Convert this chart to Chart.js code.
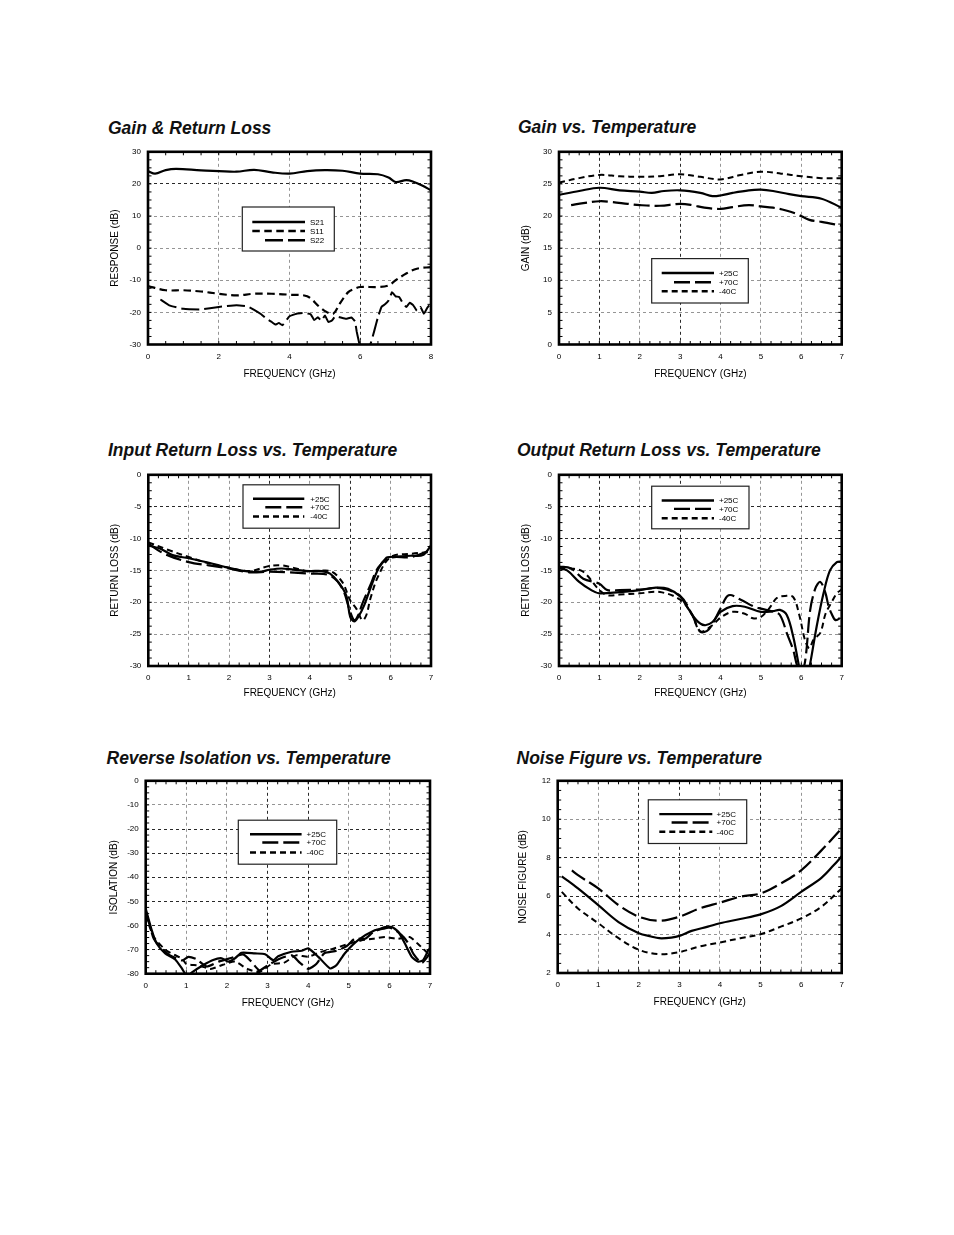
<!DOCTYPE html>
<html><head><meta charset="utf-8">
<script src="https://cdn.jsdelivr.net/npm/chart.js@4.4.1/dist/chart.umd.min.js"></script>
<style>
html,body{margin:0;padding:0;background:#fff;}
body{width:954px;height:1235px;position:relative;overflow:hidden;font-family:"Liberation Sans",Arial,sans-serif;}
.t{position:absolute;font-weight:bold;font-style:italic;font-size:17.5px;line-height:20px;color:#111;white-space:nowrap;}
canvas{position:absolute;}
</style></head><body>
<div class="t" style="left:108px;top:117.8px">Gain &amp; Return Loss</div>
<div class="t" style="left:518px;top:117.3px">Gain vs. Temperature</div>
<div class="t" style="left:108px;top:439.8px">Input Return Loss vs. Temperature</div>
<div class="t" style="left:517px;top:439.8px">Output Return Loss vs. Temperature</div>
<div class="t" style="left:106.5px;top:747.8px">Reverse Isolation vs. Temperature</div>
<div class="t" style="left:516.5px;top:747.8px">Noise Figure vs. Temperature</div>
<canvas id="c1" width="345" height="250" style="left:100px;top:140px"></canvas>
<canvas id="c2" width="345" height="250" style="left:510px;top:140px"></canvas>
<canvas id="c3" width="345" height="250" style="left:100px;top:463px"></canvas>
<canvas id="c4" width="345" height="250" style="left:510px;top:463px"></canvas>
<canvas id="c5" width="345" height="250" style="left:100px;top:769px"></canvas>
<canvas id="c6" width="345" height="250" style="left:510px;top:769px"></canvas>
<script>
// ---------------- DATA ----------------
// Chart 1: Gain & Return Loss
const s21X = [0,0.2,0.5,0.8,1.5,2,2.5,3,3.5,4,4.5,5,5.5,6,6.5,6.8,7,7.3,7.5,7.75,8];
const s21Y = [24.0,23.2,24.3,24.7,24.2,24.0,23.8,24.4,23.6,23.2,24.0,24.3,24.1,23.2,23.0,22.0,20.6,21.2,20.7,19.5,18.0];
const s11X = [0,0.5,1,1.5,2,2.5,3,3.5,4,4.5,4.85,5.05,5.24,5.42,5.66,5.85,6,6.5,6.8,7,7.3,7.6,8];
const s11Y = [-11.8,-13.1,-13.1,-13.5,-14.2,-14.7,-14.2,-14.2,-14.5,-15.0,-18.3,-19.9,-20.4,-17.3,-13.7,-12.6,-12.1,-12.1,-11.6,-10.0,-7.9,-6.4,-5.9];
const s22X = [0.35,0.6,1.0,1.5,2.0,2.5,2.8,3.0,3.2,3.35,3.5,3.6,3.7,3.8,4.0,4.2,4.4,4.6,4.7,4.8,4.9,5.0,5.1,5.2,5.3,5.45,5.6,5.75,5.85,5.9,5.95,6.0,6.1,6.2,6.3,6.4,6.5,6.6,6.7,6.8,6.9,7.0,7.1,7.2,7.3,7.4,7.5,7.6,7.7,7.8,7.9,8.0];
const s22Y = [-16.0,-17.8,-18.9,-19.1,-18.3,-17.8,-18.1,-19.2,-20.6,-22.0,-23.0,-23.8,-23.3,-24.0,-21.2,-20.4,-20.2,-20.6,-22.4,-21.5,-22.6,-21.0,-23.0,-22.5,-21.2,-21.6,-22.0,-21.6,-22.8,-26.0,-28.5,-31,-32,-32,-29.5,-25.6,-21.5,-18.3,-17.5,-16.3,-13.7,-15.0,-15.2,-17.0,-18.3,-17.0,-17.8,-19.5,-18.3,-20.4,-18.5,-17.1];
// Chart 2: Gain vs. Temperature
const g25X = [0,0.5,1,1.5,2,2.3,2.6,3,3.5,3.8,4,4.3,4.7,5,5.3,5.7,6,6.5,7];
const g25Y = [23.3,23.9,24.4,24.0,23.8,23.6,23.9,24.0,23.6,23.1,23.2,23.6,24.0,24.1,23.9,23.4,23.1,22.7,21.3];
const g70X = [0.3,0.6,1,1.3,1.7,2,2.5,3,3.3,3.6,4,4.3,4.7,5,5.3,5.6,5.9,6.2,6.5,7];
const g70Y = [21.7,22.0,22.3,22.2,21.9,21.7,21.6,21.9,21.7,21.3,21.1,21.4,21.7,21.5,21.3,20.9,20.3,19.4,19.1,18.5];
const gm40X = [0,0.5,1,1.5,2,2.5,3,3.5,4,4.5,5,5.5,6,6.5,7];
const gm40Y = [25.2,25.9,26.4,26.2,26.1,26.2,26.5,26.1,25.7,26.4,26.9,26.6,26.2,25.9,25.9];
// Chart 3: Input Return Loss vs. Temperature
const ir25X = [0,0.3,0.6,1,1.5,2,2.5,2.8,3,3.3,3.6,4,4.3,4.5,4.7,4.9,5.0,5.1,5.2,5.35,5.5,5.7,5.9,6,6.5,6.8,7];
const ir25Y = [-11.1,-11.6,-12.6,-13.1,-13.8,-14.6,-15.2,-15.2,-14.9,-14.7,-14.9,-15.1,-15.1,-15.5,-16.8,-18.9,-22.3,-23.0,-22.3,-20.4,-17.8,-14.7,-13.0,-12.9,-12.7,-12.6,-11.1];
const ir70X = [0,0.4,1,1.5,2,2.5,3,3.5,4,4.5,4.8,5.0,5.1,5.2,5.3,5.5,5.7,6,6.5,7];
const ir70Y = [-10.8,-12.4,-13.7,-14.2,-14.7,-15.3,-15.2,-15.3,-15.5,-15.8,-17.8,-21.5,-22.8,-22.0,-20.2,-17.3,-14.5,-13.0,-12.9,-11.8];
const irm40X = [0,0.5,1,1.5,2,2.5,3,3.3,3.6,4,4.5,4.8,5.0,5.15,5.3,5.4,5.5,5.7,6,6.5,7];
const irm40Y = [-10.6,-11.8,-12.9,-13.9,-14.6,-15.1,-14.3,-14.2,-14.6,-15.2,-15.1,-16.8,-19.7,-21.0,-22.8,-22.0,-19.4,-15.8,-12.9,-12.4,-12.1];
// Chart 4: Output Return Loss vs. Temperature
const or25X = [0,0.2,0.5,0.8,1,1.5,2,2.4,2.7,3,3.2,3.4,3.6,3.8,4,4.3,4.6,5,5.3,5.47,5.64,5.8,5.93,6.0,6.15,6.22,6.38,6.55,6.71,6.88,7];
const or25Y = [-14.7,-15.0,-16.8,-18.1,-18.6,-18.4,-18.1,-17.7,-17.9,-19.1,-21.0,-22.8,-23.6,-23.1,-21.5,-20.6,-20.7,-21.5,-21.4,-21.2,-22.0,-25.4,-29.6,-31.5,-31.5,-29.6,-23.8,-18.6,-15.0,-13.7,-13.6];
const or70X = [0,0.3,0.6,1,1.2,1.5,2,2.5,3,3.3,3.5,3.7,4,4.2,4.5,4.8,5.0,5.3,5.47,5.65,5.8,5.9,6.0,6.1,6.22,6.35,6.47,6.6,6.67,6.75,6.85,7];
const or70Y = [-14.4,-14.7,-16.3,-17.1,-18.1,-18.1,-18.0,-17.8,-19.0,-22.0,-24.6,-24.3,-21.0,-18.9,-19.6,-20.6,-21.0,-21.5,-22.0,-25.0,-27.5,-30.0,-31.0,-29.0,-21.2,-17.8,-16.8,-18.6,-20.5,-21.8,-22.8,-22.3];
const orm40X = [0,0.3,0.6,1,1.2,1.5,2,2.5,3,3.3,3.5,3.8,4,4.3,4.6,4.8,5.0,5.2,5.4,5.6,5.8,5.95,6.09,6.2,6.3,6.47,6.6,6.75,6.88,7];
const orm40Y = [-14.6,-14.7,-15.2,-18.1,-18.9,-18.8,-18.6,-18.4,-19.6,-22.0,-24.6,-23.6,-22.4,-21.5,-21.8,-22.5,-22.3,-21.0,-19.3,-19.0,-19.2,-22.0,-25.9,-27.2,-25.9,-24.8,-21.8,-20.0,-18.6,-18.0];
// Chart 5: Reverse Isolation vs. Temperature
const is25X = [0,0.15,0.27,0.48,0.72,0.89,0.97,1.05,1.13,1.42,1.66,1.87,2.03,2.2,2.36,2.69,2.94,3.14,3.26,3.59,3.84,4.0,4.25,4.54,4.7,4.9,5.23,5.64,5.89,6.05,6.22,6.38,6.55,6.71,6.83,6.96,7];
const is25Y = [-53,-62,-67.5,-71.6,-74,-77.8,-80,-81,-79.6,-76.4,-74.3,-73.6,-75,-73.6,-71.3,-71.6,-71.9,-74.4,-72.8,-70.9,-70.5,-69.5,-73,-77.8,-76.4,-71.6,-66.1,-62,-61.2,-60.6,-62.6,-67.4,-73,-75,-74.4,-70.2,-69.5];
const is70X = [0,0.1,0.2,0.4,0.6,0.9,1.05,1.25,1.5,1.8,2.1,2.4,2.6,2.8,3.0,3.3,3.6,3.8,4.0,4.2,4.4,4.7,4.95,5.15,5.4,5.6,5.9,6.1,6.3,6.45,6.6,6.8,7];
const is70Y = [-54.5,-60,-65.5,-69.7,-72.4,-74.5,-73,-74,-77,-75,-73.5,-72,-75,-78.6,-76.6,-73.8,-72.4,-75.5,-78,-76,-71.5,-70.5,-68.5,-65.5,-65.5,-62.8,-60.7,-61.4,-64,-67,-72,-75.5,-71.5];
const ism40X = [0,0.2,0.5,0.9,1.0,1.3,1.6,1.9,2.2,2.5,2.8,3.1,3.4,3.7,4.0,4.3,4.6,5.0,5.3,5.6,5.9,6.2,6.5,6.7,7];
const ism40Y = [-56,-64.8,-70.3,-73.8,-76,-76.6,-78,-76.3,-75,-78,-79.3,-76,-75.5,-72.4,-73,-71,-69.7,-67.6,-66.2,-65.5,-64.8,-65.5,-64.8,-67.6,-72.4];
// Chart 6: Noise Figure vs. Temperature
const nf25X = [0.1,0.5,1,1.5,2,2.3,2.5,2.8,3,3.3,3.7,4,4.5,5,5.5,6,6.5,6.8,7];
const nf25Y = [7.03,6.4,5.53,4.65,4.07,3.9,3.81,3.84,3.93,4.19,4.41,4.59,4.81,5.05,5.48,6.22,6.95,7.6,8.07];
const nf70X = [0.35,0.5,1,1.5,2,2.5,3,3.5,4,4.5,5,5.5,6,6.5,7];
const nf70Y = [7.34,7.09,6.4,5.53,4.93,4.72,4.93,5.36,5.66,5.97,6.14,6.66,7.34,8.38,9.53];
const nfm40X = [0.1,0.5,1,1.5,2,2.5,3,3.5,4,4.5,5,5.5,6,6.5,7];
const nfm40Y = [6.22,5.36,4.59,3.81,3.21,2.98,3.09,3.38,3.59,3.81,4.02,4.41,4.84,5.45,6.4];

const tempLabels = ['+25C','+70C','-40C'];
const sParamLabels = ['S21','S11','S22'];

// ---------------- RENDERING ----------------
const FONT = '"Liberation Sans", Arial, sans-serif';
const pts = (xs, ys) => xs.map((x, i) => ({x, y: ys[i]}));
const SOLID = [];
const SHORT = [6, 4];
const LONG = [16, 5];

const framePlugin = {
  id: 'frameTicks',
  afterDatasetsDraw(chart, args, opts) {
    const {ctx, chartArea: a} = chart;
    const xs = chart.scales.x, ys = chart.scales.y;
    ctx.save();
    ctx.strokeStyle = '#000';
    ctx.lineWidth = 1;
    ctx.setLineDash([]);
    const L = 3.5;
    const xm = opts.xMinor, ym = opts.yMinor;
    for (let v = xs.min; v <= xs.max + 1e-9; v += xm) {
      const p = xs.getPixelForValue(v);
      ctx.beginPath(); ctx.moveTo(p, a.bottom); ctx.lineTo(p, a.bottom - L); ctx.stroke();
      ctx.beginPath(); ctx.moveTo(p, a.top); ctx.lineTo(p, a.top + L); ctx.stroke();
    }
    for (let v = ys.min; v <= ys.max + 1e-9; v += ym) {
      const p = ys.getPixelForValue(v);
      ctx.beginPath(); ctx.moveTo(a.left, p); ctx.lineTo(a.left + L, p); ctx.stroke();
      ctx.beginPath(); ctx.moveTo(a.right, p); ctx.lineTo(a.right - L, p); ctx.stroke();
    }
    // legend box
    const lg = opts.legend;
    const bx = a.left + lg.x, by = a.top + lg.y;
    ctx.fillStyle = '#fff';
    ctx.fillRect(bx, by, lg.w, lg.h);
    ctx.strokeStyle = '#222';
    ctx.lineWidth = 1.2;
    ctx.strokeRect(bx, by, lg.w, lg.h);
    chart.data.datasets.forEach((ds, i) => {
      const yy = by + lg.rows[i];
      ctx.beginPath();
      ctx.setLineDash(ds.borderDash || []);
      ctx.lineWidth = 2.4;
      ctx.strokeStyle = '#000';
      ctx.moveTo(bx + lg.lx[i], yy);
      ctx.lineTo(bx + lg.lx2, yy);
      ctx.stroke();
      ctx.setLineDash([]);
      ctx.fillStyle = '#000';
      ctx.font = '8px ' + FONT;
      ctx.textBaseline = 'middle';
      ctx.textAlign = 'left';
      ctx.fillText(ds.label, bx + lg.tx, yy + 0.5);
    });
    // frame
    ctx.setLineDash([]);
    ctx.lineWidth = 2.6;
    ctx.strokeStyle = '#000';
    ctx.strokeRect(a.left, a.top, a.right - a.left, a.bottom - a.top);
    ctx.restore();
  }
};

function gridColor(dark) {
  return c => (c.tick && dark.includes(c.tick.value)) ? '#111' : '#8a8a8a';
}

function makeChart(id, cfg) {
  const datasets = cfg.series.map(s => ({
    label: s.label,
    data: pts(s.x, s.y),
    borderColor: '#000',
    borderWidth: s.w || 2,
    borderDash: s.dash,
    pointRadius: 0,
    tension: s.tension === undefined ? 0.35 : s.tension,
    fill: false
  }));
  return new Chart(document.getElementById(id), {
    type: 'line',
    data: {datasets},
    plugins: [framePlugin],
    options: {
      responsive: false,
      animation: false,
      events: [],
      layout: {padding: {top: cfg.padTop, right: cfg.padRight, left: 0, bottom: 0}},
      plugins: {
        legend: {display: false},
        tooltip: {enabled: false},
        frameTicks: {xMinor: cfg.xMinor, yMinor: cfg.yMinor, legend: cfg.legend}
      },
      scales: {
        x: {
          type: 'linear', min: cfg.xMin, max: cfg.xMax,
          ticks: {stepSize: cfg.xStep, color: '#000', font: {size: 8, family: FONT}, padding: 7, maxRotation: 0, autoSkip: false},
          grid: {color: gridColor(cfg.xDark), lineWidth: 0.9, drawTicks: false},
          border: {display: false, dash: [3, 3]},
          title: {display: true, text: cfg.xTitle, color: '#000', font: {size: 10, family: FONT}, padding: {top: 0, bottom: cfg.xTitlePad}},
          afterFit: s => { s.height = cfg.xH; }
        },
        y: {
          type: 'linear', min: cfg.yMin, max: cfg.yMax,
          ticks: {stepSize: cfg.yStep, color: '#000', font: {size: 8, family: FONT}, padding: 7, autoSkip: false},
          grid: {color: gridColor(cfg.yDark), lineWidth: 0.9, drawTicks: false},
          border: {display: false, dash: [3, 3]},
          title: {display: true, text: cfg.yTitle, color: '#000', font: {size: 10, family: FONT}, padding: {top: cfg.yTitlePad, bottom: 0}},
          afterFit: s => { s.width = cfg.yW; }
        }
      }
    }
  });
}

makeChart('c1', {
  series: [
    {label: sParamLabels[0], x: s21X, y: s21Y, dash: SOLID, w: 2.2},
    {label: sParamLabels[1], x: s11X, y: s11Y, dash: [7.5, 4.5], w: 2.2},
    {label: sParamLabels[2], x: s22X, y: s22Y, dash: [18, 5], w: 2, tension: 0.1}
  ],
  xMin: 0, xMax: 8, xStep: 2, xMinor: 0.5, yMin: -30, yMax: 30, yStep: 10, yMinor: 2.5,
  xDark: [6], yDark: [20],
  xTitle: 'FREQUENCY (GHz)', yTitle: 'RESPONSE (dB)',
  yW: 48, padTop: 11.5, padRight: 14, xH: 45.5, xTitlePad: 10, yTitlePad: 9,
  legend: {x: 94.3, y: 55.2, w: 92, h: 44, rows: [15, 24, 33.3], lx: [10, 10, 22.7], lx2: 62.7, tx: 67.7}
});

makeChart('c2', {
  series: [
    {label: tempLabels[0], x: g25X, y: g25Y, dash: SOLID, w: 2.2},
    {label: tempLabels[1], x: g70X, y: g70Y, dash: LONG, w: 2.2},
    {label: tempLabels[2], x: gm40X, y: gm40Y, dash: SHORT, w: 2}
  ],
  xMin: 0, xMax: 7, xStep: 1, xMinor: 0.25, yMin: 0, yMax: 30, yStep: 5, yMinor: 1.25,
  xDark: [1, 3], yDark: [25],
  xTitle: 'FREQUENCY (GHz)', yTitle: 'GAIN (dB)',
  yW: 49, padTop: 11.5, padRight: 13.3, xH: 45.5, xTitlePad: 10, yTitlePad: 10,
  legend: {x: 92.7, y: 106.8, w: 96.6, h: 44.4, rows: [14.4, 23.7, 32.7], lx: [10, 22.3, 10], lx2: 62.3, tx: 67.3}
});

makeChart('c3', {
  series: [
    {label: tempLabels[0], x: ir25X, y: ir25Y, dash: SOLID, w: 2.2},
    {label: tempLabels[1], x: ir70X, y: ir70Y, dash: LONG, w: 2.2},
    {label: tempLabels[2], x: irm40X, y: irm40Y, dash: SHORT, w: 2}
  ],
  xMin: 0, xMax: 7, xStep: 1, xMinor: 0.25, yMin: -30, yMax: 0, yStep: 5, yMinor: 1.25,
  xDark: [3, 5], yDark: [-5, -10],
  xTitle: 'FREQUENCY (GHz)', yTitle: 'RETURN LOSS (dB)',
  yW: 48.3, padTop: 11.3, padRight: 14, xH: 47, xTitlePad: 13.5, yTitlePad: 9,
  legend: {x: 94.7, y: 10, w: 96.3, h: 43.4, rows: [14, 22.4, 31.7], lx: [10, 22.3, 10], lx2: 61.3, tx: 67.3}
});

makeChart('c4', {
  series: [
    {label: tempLabels[0], x: or25X, y: or25Y, dash: SOLID, w: 2.2},
    {label: tempLabels[1], x: or70X, y: or70Y, dash: LONG, w: 2.2},
    {label: tempLabels[2], x: orm40X, y: orm40Y, dash: SHORT, w: 2}
  ],
  xMin: 0, xMax: 7, xStep: 1, xMinor: 0.25, yMin: -30, yMax: 0, yStep: 5, yMinor: 1.25,
  xDark: [1, 3], yDark: [-5, -10],
  xTitle: 'FREQUENCY (GHz)', yTitle: 'RETURN LOSS (dB)',
  yW: 49, padTop: 11.3, padRight: 13.3, xH: 47, xTitlePad: 13.5, yTitlePad: 10,
  legend: {x: 92.7, y: 11.4, w: 97.3, h: 42.6, rows: [14.3, 22.7, 32], lx: [10, 22.3, 10], lx2: 62.3, tx: 67.3}
});

makeChart('c5', {
  series: [
    {label: tempLabels[0], x: is25X, y: is25Y, dash: SOLID, w: 2.2, tension: 0.2},
    {label: tempLabels[1], x: is70X, y: is70Y, dash: LONG, w: 2.2, tension: 0.2},
    {label: tempLabels[2], x: ism40X, y: ism40Y, dash: SHORT, w: 2, tension: 0.2}
  ],
  xMin: 0, xMax: 7, xStep: 1, xMinor: 0.25, yMin: -80, yMax: 0, yStep: 10, yMinor: 2.5,
  xDark: [3, 4], yDark: [-20, -30, -40, -50, -60, -70],
  xTitle: 'FREQUENCY (GHz)', yTitle: 'ISOLATION (dB)',
  yW: 45.7, padTop: 11.3, padRight: 15, xH: 45.3, xTitlePad: 10, yTitlePad: 8,
  legend: {x: 92.6, y: 39.4, w: 98.4, h: 44, rows: [14, 22.3, 32.3], lx: [11.7, 24, 11.7], lx2: 63.3, tx: 68.3}
});

makeChart('c6', {
  series: [
    {label: tempLabels[0], x: nf25X, y: nf25Y, dash: SOLID, w: 2.2},
    {label: tempLabels[1], x: nf70X, y: nf70Y, dash: LONG, w: 2.2},
    {label: tempLabels[2], x: nfm40X, y: nfm40Y, dash: SHORT, w: 2}
  ],
  xMin: 0, xMax: 7, xStep: 1, xMinor: 0.25, yMin: 2, yMax: 12, yStep: 2, yMinor: 0.5,
  xDark: [2, 3, 5], yDark: [8, 6],
  xTitle: 'FREQUENCY (GHz)', yTitle: 'NOISE FIGURE (dB)',
  yW: 47.7, padTop: 11.3, padRight: 13.3, xH: 46, xTitlePad: 10.5, yTitlePad: 7.5,
  legend: {x: 90.6, y: 19, w: 98.4, h: 43.7, rows: [14.3, 22.7, 32], lx: [11, 23.3, 11], lx2: 64, tx: 68.3}
});
</script>
</body></html>
